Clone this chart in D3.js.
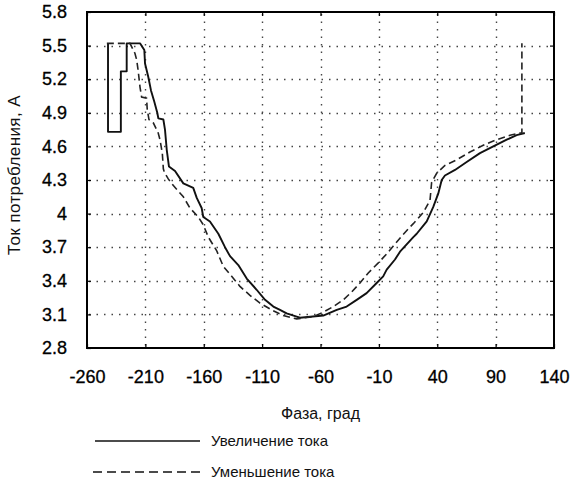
<!DOCTYPE html>
<html>
<head>
<meta charset="utf-8">
<script src="https://cdnjs.cloudflare.com/ajax/libs/d3/7.8.5/d3.min.js"></script>
<style>
  html, body { margin: 0; padding: 0; background: #fff; }
  svg { display: block; font-family: "Liberation Sans", Arial, sans-serif; }
</style>
</head>
<body>
<svg id="chart" width="574" height="488"></svg>
<script>
// Phase sweep, current drawn while increasing (solid) and decreasing (dashed)
const increasingCurrent = [
  [-242, 5.52], [-242, 4.73], [-231, 4.73], [-231, 5.27], [-226, 5.27], [-226, 5.52],
  [-214.6, 5.52], [-210.9, 5.46], [-210.3, 5.34], [-207.5, 5.22], [-205.2, 5.10],
  [-202.4, 5.00], [-199.8, 4.90], [-198.9, 4.85], [-194.6, 4.84], [-193.2, 4.75],
  [-191.7, 4.57], [-189.8, 4.42], [-184.6, 4.38], [-177.5, 4.27], [-169, 4.23],
  [-166, 4.14], [-161.8, 4.05], [-160.4, 3.97], [-154.7, 3.93], [-147.5, 3.82],
  [-141.8, 3.70], [-137.5, 3.62], [-130.4, 3.54], [-123.2, 3.42], [-114.7, 3.32],
  [-107.5, 3.23], [-100.4, 3.17], [-94.7, 3.14], [-89, 3.11], [-80.4, 3.08],
  [-77.6, 3.07], [-57.6, 3.09], [-46.1, 3.14], [-37.6, 3.17], [-29, 3.23],
  [-20.5, 3.29], [-11.9, 3.38], [-6.3, 3.44], [-3.3, 3.50], [3.8, 3.59], [8.1, 3.66],
  [19.5, 3.79], [22.4, 3.82], [31, 3.93], [36.6, 4.06], [40.9, 4.18], [43.8, 4.30],
  [46.6, 4.34], [55.2, 4.39], [65.2, 4.46], [76.6, 4.54], [88, 4.60], [99.5, 4.66],
  [108, 4.70], [115, 4.72]
];

const decreasingCurrent = [
  [-243, 5.52], [-223.2, 5.52], [-218.9, 5.43], [-217.4, 5.37], [-216.1, 5.27],
  [-214.6, 5.13], [-213.2, 5.04], [-209, 5.03], [-208.4, 4.93], [-206.9, 4.84],
  [-203.2, 4.81], [-199, 4.72], [-197.5, 4.66], [-195.5, 4.54], [-194.6, 4.40],
  [-193.8, 4.37], [-190.4, 4.31], [-186, 4.25], [-177.5, 4.15], [-171.8, 4.05],
  [-164.7, 3.97], [-160.4, 3.90], [-156.1, 3.79], [-149, 3.67], [-143.3, 3.53],
  [-136.1, 3.44], [-129, 3.35], [-120.4, 3.27], [-111.8, 3.20], [-101.8, 3.14],
  [-91.9, 3.09], [-80.4, 3.06], [-66.2, 3.08], [-57.6, 3.12], [-49, 3.17],
  [-40.5, 3.23], [-33.3, 3.30], [-26.2, 3.38], [-19.1, 3.47], [-10.5, 3.56],
  [-3.3, 3.64], [2.4, 3.71], [9.6, 3.80], [16.6, 3.88], [19.5, 3.91], [28.1, 4.01],
  [33.8, 4.12], [35.2, 4.28], [39.5, 4.36], [46.6, 4.43], [56.6, 4.48], [68, 4.55],
  [79.4, 4.61], [90.9, 4.66], [102.3, 4.70], [110.9, 4.72], [112.5, 4.72], [112.5, 5.52]
];

const phaseTicks = [-260, -210, -160, -110, -60, -10, 40, 90, 140];
const currentTicks = [2.8, 3.1, 3.4, 3.7, 4, 4.3, 4.6, 4.9, 5.2, 5.5, 5.8];

const seriesNames = ["Увеличение тока", "Уменьшение тока"];
const xTitle = "Фаза, град";
const yTitle = "Ток потребления, А";

const svg = d3.select("#chart");
const plot = { left: 87, right: 554, top: 12, bottom: 348 };

const x = d3.scaleLinear().domain([-260, 140]).range([plot.left, plot.right]);
const y = d3.scaleLinear().domain([2.8, 5.8]).range([plot.bottom, plot.top]);

// dotted grid
const grid = svg.append("g").attr("class", "grid");
grid.selectAll("line.gx").data(phaseTicks.slice(1, -1)).join("line")
  .attr("class", "gx")
  .attr("x1", d => Math.round(x(d)) + 0.5).attr("x2", d => Math.round(x(d)) + 0.5)
  .attr("y1", plot.top + 2).attr("y2", plot.bottom);
grid.selectAll("line.gy").data(currentTicks.slice(1, -1)).join("line")
  .attr("class", "gy")
  .attr("y1", d => Math.round(y(d)) + 0.5).attr("y2", d => Math.round(y(d)) + 0.5)
  .attr("x1", plot.left + 2).attr("x2", plot.right);
grid.selectAll("line")
  .attr("stroke", "#444").attr("stroke-width", 1.4)
  .attr("stroke-dasharray", "1.5,6").attr("fill", "none");

// axes with short inward ticks on all four sides
const tickLen = 4;
const plain = d => String(d);
svg.append("g").attr("transform", `translate(0,${plot.bottom})`)
  .call(d3.axisBottom(x).tickValues(phaseTicks).tickSize(-tickLen).tickPadding(22)
    .tickFormat(plain))
  .call(g => g.select(".domain").remove());
svg.append("g").attr("transform", `translate(0,${plot.top})`)
  .call(d3.axisTop(x).tickValues(phaseTicks).tickSize(-tickLen).tickFormat(""))
  .call(g => g.select(".domain").remove());
svg.append("g").attr("transform", `translate(${plot.left},0)`)
  .call(d3.axisLeft(y).tickValues(currentTicks).tickSize(-tickLen).tickPadding(20)
    .tickFormat(plain))
  .call(g => g.select(".domain").remove());
svg.append("g").attr("transform", `translate(${plot.right},0)`)
  .call(d3.axisRight(y).tickValues(currentTicks).tickSize(-tickLen).tickFormat(""))
  .call(g => g.select(".domain").remove());

svg.selectAll(".tick line").attr("stroke", "#000").attr("stroke-width", 1.2);
svg.selectAll(".tick text").attr("font-size", 18).attr("fill", "#000")
  .attr("stroke", "#000").attr("stroke-width", 0.3)
  .attr("font-family", "'Liberation Sans', Arial, sans-serif");

// frame
svg.append("rect")
  .attr("x", plot.left).attr("y", plot.top)
  .attr("width", plot.right - plot.left).attr("height", plot.bottom - plot.top)
  .attr("fill", "none").attr("stroke", "#000").attr("stroke-width", 2);

// curves
const line = d3.line().x(d => x(d[0])).y(d => y(d[1]));
svg.append("path").datum(increasingCurrent).attr("d", line)
  .attr("fill", "none").attr("stroke", "#111").attr("stroke-width", 1.9)
  .attr("stroke-linejoin", "round");
svg.append("path").datum(decreasingCurrent).attr("d", line)
  .attr("fill", "none").attr("stroke", "#222").attr("stroke-width", 1.6)
  .attr("stroke-dasharray", "7,4");

// axis titles
svg.append("text").attr("x", (plot.left + plot.right) / 2).attr("y", 419)
  .attr("text-anchor", "middle").attr("font-size", 16).attr("fill", "#111")
  .text(xTitle);
svg.append("text").attr("transform", "translate(20,175) rotate(-90)")
  .attr("text-anchor", "middle").attr("font-size", 17).attr("letter-spacing", 0.4)
  .attr("fill", "#111").text(yTitle);

// legend
const legend = svg.append("g");
const legendRows = [
  { name: seriesNames[0], y: 441, dash: null, width: 1.5, x1: 95 },
  { name: seriesNames[1], y: 472, dash: "9,5", width: 1.5, x1: 93 }
];
legendRows.forEach(r => {
  legend.append("line").attr("x1", r.x1).attr("x2", 200).attr("y1", r.y).attr("y2", r.y)
    .attr("stroke", "#111").attr("stroke-width", r.width)
    .attr("stroke-dasharray", r.dash);
  legend.append("text").attr("x", 211).attr("y", r.y + 5).attr("font-size", 15)
    .attr("fill", "#111").text(r.name);
});
</script>
</body>
</html>
